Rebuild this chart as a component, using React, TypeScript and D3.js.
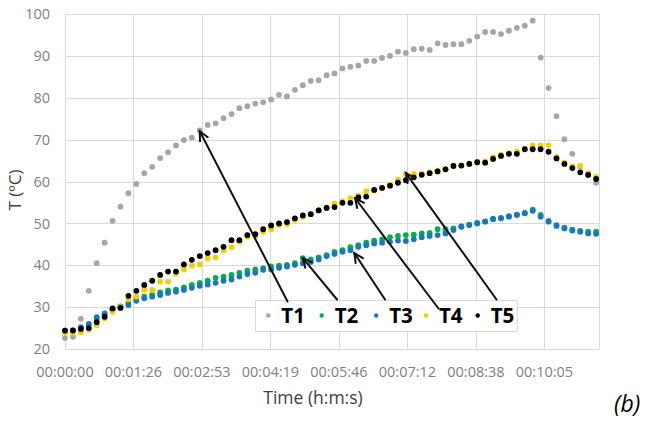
import React from "react";
import * as d3 from "d3";

const W = 649;
const H = 421;

// time step between samples (s)
const times: number[] = Array.from({ length: 68 }, (_, i) => i * 10);

const T1: number[] = [
  22.6, 22.9, 27.2, 33.9, 40.5, 45.4, 50.6, 54.0, 57.2, 59.4,
  62.0, 63.5, 65.6, 67.0, 68.6, 69.9, 70.5, 72.2, 73.5, 73.9,
  75.1, 76.1, 77.5, 78.0, 78.6, 78.9, 79.6, 80.7, 80.3, 81.9,
  83.0, 84.0, 84.2, 85.4, 85.8, 87.0, 87.4, 87.7, 88.8, 88.8,
  89.5, 90.0, 91.0, 90.7, 91.6, 91.7, 91.4, 93.0, 92.6, 92.8,
  92.8, 93.6, 94.6, 95.7, 95.7, 95.2, 96.0, 96.7, 97.2, 98.4,
  89.6, 82.3, 75.6, 70.1, 66.6, 63.5, 61.5, 59.7,
];

const T2: number[] = [
  24.2, 24.3, 25.0, 25.8, 27.3, 28.3, 29.3, 30.2, 31.0, 32.0,
  32.5, 33.0, 33.5, 34.0, 34.2, 34.7, 35.3, 35.8, 36.3, 37.0,
  37.3, 37.7, 38.2, 38.7, 39.0, 39.3, 39.7, 39.9, 40.1, 40.5,
  41.7, 41.4, 41.9, 42.4, 43.2, 43.6, 44.3, 44.8, 45.4, 45.9,
  46.2, 46.7, 47.0, 47.2, 47.3, 47.6, 47.7, 48.6, 48.6, 48.8,
  49.3, 49.7, 50.1, 50.5, 51.1, 51.3, 51.7, 52.1, 52.5, 53.3,
  52.0, 50.6, 49.6, 49.0, 48.5, 48.2, 48.0, 48.0,
];

const T3: number[] = [
  24.4, 24.5, 25.2, 26.0, 27.6, 28.5, 29.5, 30.0, 30.5, 31.5,
  32.1, 32.5, 32.9, 33.4, 33.7, 34.1, 34.6, 35.1, 35.4, 35.8,
  36.3, 36.6, 37.3, 37.9, 38.2, 38.9, 39.0, 39.4, 39.7, 40.1,
  40.5, 40.8, 41.4, 42.2, 42.7, 43.2, 43.6, 44.4, 44.8, 45.2,
  45.4, 45.6, 45.9, 45.8, 46.2, 46.7, 47.0, 47.2, 47.6, 48.4,
  49.2, 49.6, 50.0, 50.4, 51.0, 51.2, 51.6, 52.0, 52.4, 53.0,
  51.6, 50.4, 49.4, 48.8, 48.3, 48.0, 47.6, 47.5,
];

const T4: number[] = [
  23.9, 23.9, 24.0, 24.6, 25.7, 27.3, 28.9, 30.0, 31.9, 32.5,
  34.1, 34.1, 36.1, 36.1, 38.0, 39.0, 39.9, 40.2, 41.7, 41.9,
  43.5, 44.3, 45.6, 46.8, 47.0, 48.0, 48.6, 49.6, 49.8, 50.8,
  51.5, 52.2, 53.2, 53.8, 54.8, 55.3, 56.0, 56.6, 57.7, 57.9,
  58.4, 59.2, 60.5, 61.8, 61.8, 61.9, 62.2, 62.6, 63.0, 63.8,
  63.8, 64.3, 64.7, 64.8, 65.8, 66.4, 66.8, 67.2, 67.8, 68.6,
  68.6, 68.7, 65.8, 64.5, 63.6, 63.8, 62.0, 61.1,
];

const T5: number[] = [
  24.4, 24.4, 24.8, 25.0, 26.4, 27.7, 29.7, 29.8, 32.7, 33.9,
  35.3, 36.3, 37.7, 38.5, 38.5, 40.2, 41.3, 42.2, 42.9, 43.6,
  44.4, 46.0, 46.0, 47.2, 47.4, 48.6, 49.5, 50.0, 50.3, 51.2,
  51.9, 52.2, 53.1, 53.7, 53.9, 54.9, 54.9, 56.2, 56.4, 58.0,
  58.5, 59.0, 59.7, 60.3, 61.0, 61.6, 62.0, 62.4, 62.9, 63.7,
  63.8, 64.2, 64.6, 64.5, 65.4, 66.1, 66.6, 66.6, 67.7, 67.7,
  67.7, 67.1, 65.5, 64.2, 63.2, 62.2, 61.6, 60.6,
];

const seriesNames: string[] = ["T1", "T2", "T3", "T4", "T5"];
const seriesColors: string[] = ["#A6A6A6", "#00B050", "#1F74C0", "#F2D000", "#000000"];
const seriesValues: number[][] = [T1, T2, T3, T4, T5];

const xTickValues: number[] = [0, 86.4, 172.8, 259.2, 345.6, 432, 518.4, 604.8];
const xTickLabels: string[] = [
  "00:00:00", "00:01:26", "00:02:53", "00:04:19",
  "00:05:46", "00:07:12", "00:08:38", "00:10:05",
];
const yTickValues: number[] = [20, 30, 40, 50, 60, 70, 80, 90, 100];

// arrow tips in data units (time s, temperature)
const arrowTipTime: number[] = [170, 300, 365, 366, 430];
const arrowTipTemp: number[] = [72.0, 41.7, 42.9, 56.0, 62.0];

export default function App() {
  const left = 65;
  const right = 599.3;
  const top = 14;
  const bottom = 349;

  const x = d3.scaleLinear().domain([0, 674]).range([left, right]);
  const y = d3.scaleLinear().domain([20, 100]).range([bottom, top]);

  const font = "'Open Sans', 'DejaVu Sans', sans-serif";
  const gridColor = "#D9D9D9";

  // legend layout
  const legX = 255;
  const legY = 300;
  const legW = 262;
  const legH = 31;
  const legCy = legY + legH / 2;
  const markerXs = [268.3, 321.7, 376.2, 426, 477.7];

  // arrow tails (on legend)
  const tails: [number, number][] = [
    [287.5, 301.5],
    [337, 299.5],
    [385, 299.5],
    [438.5, 308.5],
    [496.5, 299.5],
  ];

  const arrowHead = (x1: number, y1: number, x2: number, y2: number) => {
    const ang = Math.atan2(y2 - y1, x2 - x1);
    const len = 10;
    const spread = Math.PI / 7;
    const a1 = ang + Math.PI - spread;
    const a2 = ang + Math.PI + spread;
    const p = d3.path();
    p.moveTo(x2 + len * Math.cos(a1), y2 + len * Math.sin(a1));
    p.lineTo(x2, y2);
    p.lineTo(x2 + len * Math.cos(a2), y2 + len * Math.sin(a2));
    return p.toString();
  };

  return (
    <svg
      width={W}
      height={H}
      viewBox={`0 0 ${W} ${H}`}
      style={{ position: "absolute", left: 0, top: 0, background: "#fff" }}
    >
      <rect x={0} y={0} width={W} height={H} fill="#fff" />
      {/* horizontal grid */}
      {yTickValues.map((v) => (
        <line
          key={"hy" + v}
          x1={left}
          x2={right}
          y1={Math.round(y(v)) + 0.5}
          y2={Math.round(y(v)) + 0.5}
          stroke={gridColor}
          strokeWidth={1}
        />
      ))}
      {/* vertical grid */}
      {xTickValues.map((t) => (
        <line
          key={"vx" + t}
          x1={Math.round(x(t)) + 0.5}
          x2={Math.round(x(t)) + 0.5}
          y1={top}
          y2={bottom}
          stroke={gridColor}
          strokeWidth={1}
        />
      ))}
      <line
        x1={Math.round(right) + 0.5}
        x2={Math.round(right) + 0.5}
        y1={top}
        y2={bottom}
        stroke={gridColor}
        strokeWidth={1}
      />
      {/* y tick labels */}
      {yTickValues.map((v) => (
        <text
          key={"yl" + v}
          x={50}
          y={y(v)}
          dy="0.36em"
          textAnchor="end"
          fontFamily={font}
          fontSize={14.5}
          fill="#7F7F7F"
        >
          {v}
        </text>
      ))}
      {/* x tick labels */}
      {xTickValues.map((t, i) => (
        <text
          key={"xl" + t}
          x={x(t)}
          y={371.5}
          dy="0.36em"
          textAnchor="middle"
          fontFamily={font}
          fontSize={14.5}
          fill="#7F7F7F"
        >
          {xTickLabels[i]}
        </text>
      ))}
      {/* axis titles */}
      <text
        x={313}
        y={398}
        dy="0.36em"
        textAnchor="middle"
        fontFamily={font}
        fontSize={17.5}
        fill="#404040"
      >
        Time (h:m:s)
      </text>
      <text
        transform={`translate(14.5,190) rotate(-90)`}
        dy="0.36em"
        textAnchor="middle"
        fontFamily={font}
        fontSize={17}
        fill="#404040"
      >
        T (ºC)
      </text>
      {/* points */}
      {seriesValues.map((vals, s) => (
        <g key={"s" + s} fill={seriesColors[s]}>
          {vals.map((v, i) => (
            <circle key={i} cx={x(times[i])} cy={y(v)} r={2.9} />
          ))}
        </g>
      ))}
      {/* legend */}
      <rect
        x={legX + 0.5}
        y={legY + 0.5}
        width={legW}
        height={legH}
        fill="#fff"
        stroke="#D9D9D9"
        strokeWidth={1}
      />
      {seriesNames.map((n, i) => (
        <g key={"lg" + n}>
          <circle cx={markerXs[i]} cy={legCy} r={2.2} fill={seriesColors[i]} />
          <text
            x={markerXs[i] + 13}
            y={legCy}
            dy="0.36em"
            fontFamily={font}
            fontWeight="bold"
            fontSize={20.5}
            fill="#000"
          >
            {n}
          </text>
        </g>
      ))}
      {/* arrows */}
      {tails.map(([tx, ty], i) => {
        const hx = x(arrowTipTime[i]);
        const hy = y(arrowTipTemp[i]);
        return (
          <g key={"ar" + i} stroke="#111" strokeWidth={2} fill="none" strokeLinecap="round">
            <line x1={tx} y1={ty} x2={hx} y2={hy} />
            <path d={arrowHead(tx, ty, hx, hy)} />
          </g>
        );
      })}
      {/* panel label */}
      <text
        x={614}
        y={404}
        dy="0.36em"
        fontFamily={font}
        fontStyle="italic"
        fontSize={23}
        fill="#000"
      >
        (b)
      </text>
    </svg>
  );
}
